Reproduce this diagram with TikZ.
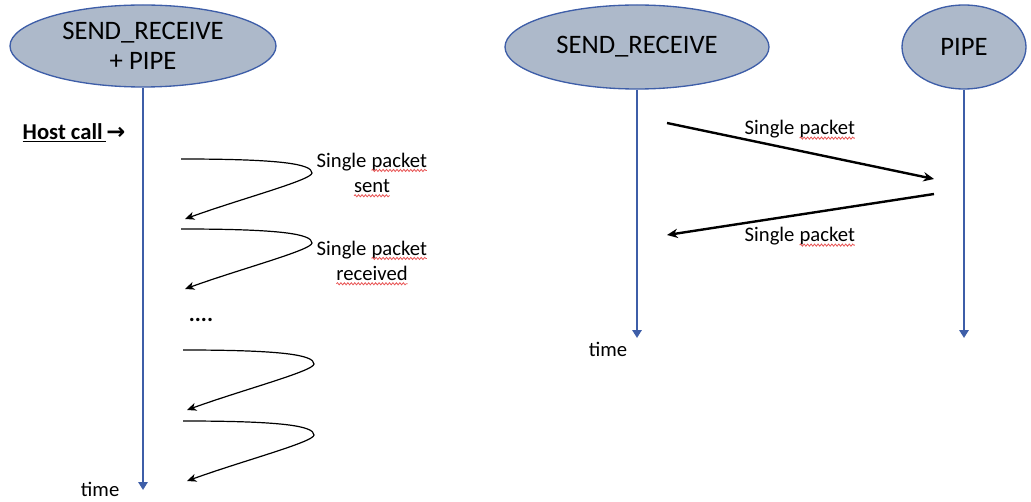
\documentclass[tikz,border=0pt]{standalone}
\usepackage{fontspec}
\setmainfont{Carlito}
\newfontfamily\arrowfont{DejaVu Sans}
\usetikzlibrary{shapes.geometric, arrows.meta, positioning, decorations.pathmorphing}

\definecolor{lanefill}{RGB}{173, 185, 202}
\definecolor{laneblue}{RGB}{62, 94, 168}
\definecolor{spellred}{RGB}{232, 84, 84}

\tikzset{
  lane/.style={ellipse, draw=laneblue, line width=1pt, fill=lanefill, inner sep=0pt,
    align=center, font=\fontsize{20}{22.5}\selectfont},
  lifeline/.style={draw=laneblue, line width=1.5pt, -{Triangle[length=6pt, width=7pt]}},
  loopback/.style={line width=0.9pt, -{Stealth[length=7pt, width=6pt, inset=2pt]}},
  msg/.style={line width=1.8pt, -{Stealth[length=8pt, width=7pt]}},
  label/.style={font=\fontsize{15.5}{19}\selectfont, align=center},
  spellwave/.style={draw=spellred, line width=0.6pt, decorate,
    decoration={snake, amplitude=0.8pt, segment length=2.6pt}},
}

% red wavy underline as left by the spell checker
\newcommand{\spellmark}[1]{\tikz[baseline=(w.base)]{%
  \node[inner sep=0pt, outer sep=0pt] (w) {#1};
  \draw[spellwave] ([yshift=-2.5pt]w.base west) -- ([yshift=-2.5pt]w.base east);}}

\begin{document}
\begin{tikzpicture}[x=0.75pt, y=-0.75pt]
  \useasboundingbox (0,0) rectangle (1031,502);

  % combined process on the left
  \node[lane, minimum width=199.5pt, minimum height=61.5pt] (both) at (143,46) {SEND\_RECEIVE\\+ PIPE};
  \coordinate (bothend) at (143,490);
  \draw[lifeline] (both) -- (bothend);
  \node[label, anchor=east] (ltime) at (124,489) {time};

  \node[font=\fontsize{17}{20}\selectfont\bfseries, anchor=west] (host) at (18,133)
    {\underline{Host call\,}{\arrowfont →}};

  \foreach \n/\x/\y in {1/181/159, 2/181/229, 3/183/350, 4/183/421} {
    \coordinate (s\n) at (\x,\y);
    \coordinate (e\n) at (\x+4,\y+60);
    \draw[loopback] (s\n) .. controls +(100,0) and +(0,-9) .. (\x+131,\y+14)
      .. controls +(0,7) and +(55,-20) .. (e\n);
  }
  \node[label] (sent) at (372,175) {Single \spellmark{packet}\\\spellmark{sent}};
  \node[label] (recv) at (372,263) {Single \spellmark{packet}\\\spellmark{received}};
  \node[font=\fontsize{17}{20}\selectfont\bfseries] (dots) at (201,320) {....};

  % separate processes on the right
  \node[lane, minimum width=198pt, minimum height=63pt] (sender) at (637,47) {SEND\_RECEIVE};
  \node[lane, minimum width=93pt, minimum height=63pt] (pipe) at (964,47) {PIPE};
  \coordinate (senderend) at (637,338);
  \coordinate (pipeend) at (964,338);
  \draw[lifeline] (sender) -- (senderend);
  \draw[lifeline] (pipe) -- (pipeend);
  \node[label] (rtime) at (608,349) {time};

  \coordinate (out1) at (667,123);
  \coordinate (in1) at (934,179);
  \coordinate (out2) at (934,194);
  \coordinate (in2) at (667,235);
  \draw[msg] (out1) -- (in1);
  \draw[msg] (out2) -- (in2);
  \node[label] (fwd) at (800,130) {Single \spellmark{packet}};
  \node[label] (back) at (800,237) {Single \spellmark{packet}};
\end{tikzpicture}
\end{document}
